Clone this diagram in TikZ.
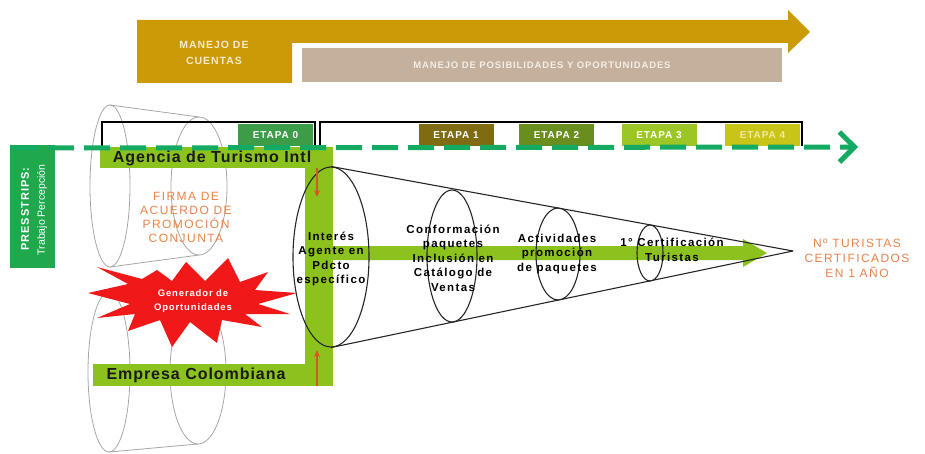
\documentclass[tikz,border=0pt]{standalone}
\usepackage{fontspec}
\setmainfont{Liberation Sans}
\newfontfamily\widesans[LetterSpace=12]{Liberation Sans}
\newfontfamily\midsans[LetterSpace=6]{Liberation Sans}
\newfontfamily\capsans[LetterSpace=9]{Liberation Sans}
\usetikzlibrary{shapes.geometric,arrows.meta}

\definecolor{gold}{HTML}{CC9A06}
\definecolor{goldtext}{HTML}{F6EBC4}
\definecolor{tan}{HTML}{C4B09D}
\definecolor{tantext}{HTML}{F4EEE7}
\definecolor{lime}{HTML}{8CC21E}
\definecolor{dashgreen}{HTML}{14AA62}
\definecolor{pressgreen}{HTML}{1FA84C}
\definecolor{etapaA}{HTML}{3C9C48}
\definecolor{etapaB}{HTML}{7E6B12}
\definecolor{etapaC}{HTML}{6A8E1E}
\definecolor{etapaD}{HTML}{9CC626}
\definecolor{etapaE}{HTML}{C9C418}
\definecolor{etapaEtext}{HTML}{F5E9A0}
\definecolor{orangetext}{HTML}{E8834A}
\definecolor{starred}{HTML}{F01818}
\definecolor{arrowred}{HTML}{D9541E}
\definecolor{cylgray}{HTML}{A6A6A6}

\begin{document}
\begin{tikzpicture}[x=1pt,y=-1pt,
  cyl/.style={draw=cylgray, line width=0.8pt},
  funnelline/.style={draw=black!85, line width=1.1pt},
  ring/.style={ellipse, draw=black!85, line width=1.1pt, inner sep=0pt},
  bracketline/.style={draw=black, line width=2.4pt},
  etapabox/.style={fill=#1, minimum width=75pt, minimum height=22pt, inner sep=0pt,
    text=white, font=\capsans\bfseries\fontsize{10}{12}\selectfont},
  funneltext/.style={align=center, font=\widesans\bfseries\fontsize{11.5}{14.5}\selectfont, text=black},
  orangelabel/.style={align=center, text=orangetext, font=\widesans\fontsize{12}{14}\selectfont},
  barlabel/.style={font=\midsans\bfseries\fontsize{16}{18}\selectfont, text=black!90},
  redarrow/.style={draw=arrowred, line width=1.3pt, -{Stealth[length=7pt,width=6pt]}},
  dashconn/.style={draw=dashgreen, line width=5pt, dash pattern=on 26pt off 10pt,
    -{Straight Barb[length=15pt,width=30pt,line width=5pt]}}
]
\useasboundingbox (0,0) rectangle (925,454);

% ---- perspective cylinders (background outlines)
\draw[cyl] (110,186) ellipse [x radius=20pt, y radius=81pt];
\draw[cyl] (199,186) ellipse [x radius=28pt, y radius=69pt];
\draw[cyl] (110,105) -- (199,117);
\draw[cyl] (110,267) -- (199,255);
\draw[cyl] (109,372) ellipse [x radius=21pt, y radius=80pt];
\draw[cyl] (198,372) ellipse [x radius=28pt, y radius=72pt];
\draw[cyl] (109,292) -- (198,300);
\draw[cyl] (109,452) -- (198,444);

% ---- top band: account management arrow and opportunities bar
\fill[gold] (137,20) -- (788,20) -- (788,10) -- (810,32) -- (788,53) -- (788,43)
  -- (292,43) -- (292,83) -- (137,83) -- cycle;
\node[align=center, text=goldtext, font=\capsans\bfseries\fontsize{10.5}{16}\selectfont]
  (cuentas) at (214,53) {MANEJO DE\\CUENTAS};
\node[fill=tan, minimum width=480pt, minimum height=34pt, inner sep=0pt,
  text=tantext, font=\capsans\bfseries\fontsize{9.5}{11}\selectfont]
  (posibilidades) at (542,65) {MANEJO DE POSIBILIDADES Y OPORTUNIDADES};

% ---- opportunity generator burst
\fill[starred] (88,293) -- (128,284) -- (97,267) -- (142,279) -- (157,270) -- (172,281)
  -- (186,262) -- (205,281) -- (228,258) -- (240,282) -- (268,272) -- (255,290)
  -- (297,293) -- (258,304) -- (290,314) -- (245,314) -- (262,327) -- (222,320)
  -- (217,343) -- (190,322) -- (172,347) -- (160,320) -- (128,331) -- (135,314)
  -- (97,318) -- (130,304) -- cycle;
\node[align=center, text=white, font=\capsans\bfseries\fontsize{9.5}{14}\selectfont]
  (generador) at (193,301) {Generador de\\Oportunidades};

% ---- green frame: agency bar, link bar, company bar
\fill[lime] (100,147) rectangle (333,168);
\fill[lime] (305,147) rectangle (333,386);
\fill[lime] (93,364) rectangle (333,386);
\node[barlabel] (agencia) at (212,158) {Agencia de Turismo Intl};
\node[barlabel] (empresa) at (196,375) {Empresa Colombiana};

% ---- horizontal flow arrow through the funnel
\fill[lime] (305,246) -- (743,246) -- (743,239) -- (767,253) -- (743,267)
  -- (743,260) -- (305,260) -- cycle;

% ---- funnel
\node[ring, minimum width=76pt, minimum height=180pt] (r1) at (331,257) {};
\node[ring, minimum width=50pt, minimum height=132pt] (r2) at (452,256) {};
\node[ring, minimum width=44pt, minimum height=92pt] (r3) at (558,254) {};
\node[ring, minimum width=26pt, minimum height=56pt] (r4) at (650,253) {};
\coordinate (apex) at (793,251);
\draw[funnelline] (r1.north) -- (apex);
\draw[funnelline] (r1.south) -- (apex);

% ---- small arrows from the bars into the funnel
\coordinate (agIn) at (317,168);
\coordinate (agOut) at (317,197);
\coordinate (emIn) at (317,386);
\coordinate (emOut) at (317,350);
\draw[redarrow] (agIn) -- (agOut);
\draw[redarrow] (emIn) -- (emOut);

% ---- funnel stage texts
\node[funneltext] (t1) at (331,259) {Interés\\Agente en\\Pdcto\\específico};
\node[funneltext] (t2) at (453,258) {Conformación\\paquetes\\Inclusión en\\Catálogo de\\Ventas};
\node[funneltext] (t3) at (557,254) {Actividades\\promoción\\de paquetes};
\node[funneltext] (t4) at (672,250) {1° Certificación\\Turistas};

\node[orangelabel] (firma) at (186,217) {FIRMA DE\\ACUERDO DE\\PROMOCIÓN\\CONJUNTA};
\node[orangelabel, font=\widesans\fontsize{12}{15}\selectfont] (resultado) at (857,258)
  {Nº TURISTAS\\CERTIFICADOS\\EN 1 AÑO};

% ---- press trips box
\node[fill=pressgreen, minimum width=45pt, minimum height=123pt, inner sep=0pt]
  (press) at (32.5,206.5) {};
\node[rotate=90, text=white, font=\capsans\bfseries\fontsize{11}{13}\selectfont]
  at (25,209) {PRESSTRIPS:};
\node[rotate=90, text=white, font=\fontsize{10.5}{12}\selectfont]
  at (42,210) {Trabajo Percepción};

% ---- stage brackets and stage labels
\draw[bracketline] (102,146) -- (102,122) -- (315,122) -- (315,146);
\draw[bracketline] (320,146) -- (320,122) -- (802,122) -- (802,146);
\node[etapabox=etapaA] (e0) at (275.5,135) {ETAPA 0};
\node[etapabox=etapaB] (e1) at (456,135) {ETAPA 1};
\node[etapabox=etapaC] (e2) at (556.5,135) {ETAPA 2};
\node[etapabox=etapaD] (e3) at (659,135) {ETAPA 3};
\node[etapabox=etapaE, text=etapaEtext] (e4) at (762.5,135) {ETAPA 4};

% ---- dashed timeline
\coordinate (lineStart) at (12,148);
\coordinate (lineEnd) at (858,147);
\draw[dashconn] (lineStart) -- (lineEnd);
\end{tikzpicture}
\end{document}
